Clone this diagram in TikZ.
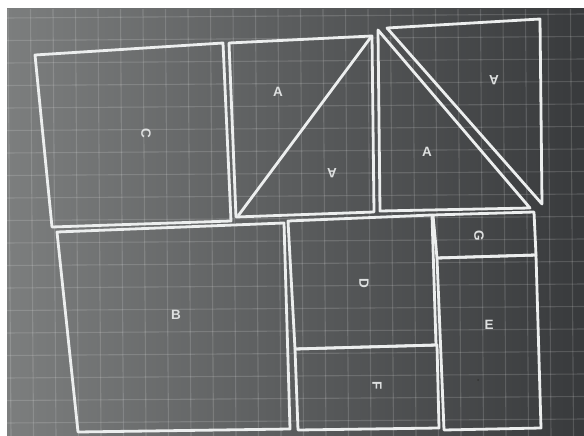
\documentclass[tikz,border=0pt]{standalone}
\usepackage{fontspec}
\setsansfont{Liberation Sans}
\definecolor{bgL}{RGB}{124,126,126}
\definecolor{bgM}{RGB}{84,86,88}
\definecolor{bgR}{RGB}{56,58,60}
\definecolor{chalk}{RGB}{236,238,238}
\definecolor{labc}{RGB}{222,224,224}
\begin{document}
\begin{tikzpicture}[x=1pt,y=-1pt,
  piece/.style={draw=chalk, line width=2.8pt, line join=round},
  gridline/.style={draw=white, opacity=0.15, line width=1.1pt},
  lab/.style={text=labc, inner sep=0pt, font=\fontsize{13.5}{13.5}\selectfont\sffamily\bfseries}]
\useasboundingbox (0,0) rectangle (584,436);
\fill[white] (0,0) rectangle (584,436);
\shade[left color=bgL, middle color=bgM, right color=bgR] (7,9) rectangle (584,436);
% grid
\begin{scope}
\clip (7,9) rectangle (584,436);
\foreach \x in {8,30.5,...,584} \draw[gridline] (\x,9) -- (\x+3,436);
\foreach \y in {18,40.5,...,436} \draw[gridline] (7,\y) -- (584,\y-4);
\end{scope}
% piece C
\draw[piece] (35,55) -- (223,43) -- (231,221) -- (52,227) -- cycle;
\node[lab, rotate=-90] (labC) at (146,133) {C};
% left A square (two triangles)
\draw[piece] (229,43) -- (372,36) -- (374,212) -- (236,217) -- cycle;
\draw[piece] (238,216) -- (371,37);
\node[lab] (labA1) at (278,92) {A};
\node[lab, rotate=180] (labA2) at (332,173) {A};
% right triangles
\draw[piece] (378,30) -- (380,211) -- (530,208) -- cycle;
\node[lab] (labA3) at (427,152) {A};
\draw[piece] (387,28) -- (540,19) -- (542,204) -- cycle;
\node[lab, rotate=180] (labA4) at (494,80) {A};
% piece B
\draw[piece] (57,232) -- (284,223) -- (290,429) -- (78,432) -- cycle;
\node[lab] (labB) at (176,315) {B};
% piece D
\draw[piece] (288,221) -- (432,215) -- (436,345) -- (295,349) -- cycle;
\node[lab, rotate=-90] (labD) at (364,283) {D};
% piece F
\draw[piece] (295,349) -- (437,345) -- (439,428) -- (298,430) -- cycle;
\node[lab, rotate=-90] (labF) at (377,386) {F};
% piece G
\draw[piece] (433,215) -- (534,212) -- (536,255) -- (437,258) -- cycle;
\node[lab, rotate=-90] (labG) at (479,236) {G};
% piece E
\draw[piece] (437,258) -- (536,255) -- (541,428) -- (444,430) -- cycle;
\node[lab] (labE) at (489,325) {E};
\fill[black!80] (478,380) circle (1pt);
\end{tikzpicture}
\end{document}
